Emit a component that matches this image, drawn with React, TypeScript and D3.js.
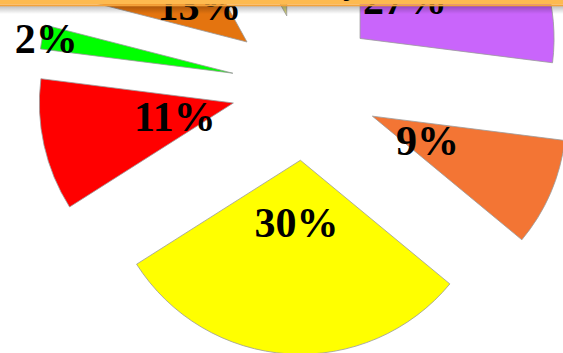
import React from "react";
import * as d3 from "d3";

const labels = ["27%", "9%", "30%", "11%", "2%", "13%", "8%"];
const values = [27, 9, 30, 11, 2, 13, 8];
const colors = ["#C965FB", "#F37534", "#FFFF00", "#FF0000", "#00FF00", "#E4740F", "#D2D27C"];
const labelDist = [60, 60, 62, 60, 190, 60, 60];

const W = 563;
const H = 353;
const cx = 305;
const cy = 87;
const R = 194;
const explode = 73.4;

export default function App() {
  const pie = d3.pie<number>().sort(null).value((d) => d).startAngle(0).endAngle(2 * Math.PI);
  const arcs = pie(values);
  const arc = d3.arc<d3.PieArcDatum<number>>().innerRadius(0).outerRadius(R);

  return (
    <svg
      width={W}
      height={H}
      style={{ position: "fixed", left: 0, top: 0, background: "#fff" }}
      viewBox={`0 0 ${W} ${H}`}
    >
      <defs>
        <linearGradient id="shadow" x1="0" y1="0" x2="0" y2="1">
          <stop offset="0" stopColor="#000" stopOpacity="0.25" />
          <stop offset="1" stopColor="#000" stopOpacity="0" />
        </linearGradient>
      </defs>
      <g transform={`translate(${cx},${cy})`}>
        {arcs.map((a, i) => {
          const mid = (a.startAngle + a.endAngle) / 2;
          const dx = Math.sin(mid) * explode;
          const dy = -Math.cos(mid) * explode;
          return (
            <g key={i} transform={`translate(${dx},${dy})`}>
              <path d={arc(a) || ""} fill={colors[i]} stroke="#9a9a9a" strokeWidth={0.8} />
            </g>
          );
        })}
        {arcs.map((a, i) => {
          const mid = (a.startAngle + a.endAngle) / 2;
          const r = explode + labelDist[i];
          const x = Math.sin(mid) * r;
          const y = -Math.cos(mid) * r;
          return (
            <text
              key={"l" + i}
              x={x}
              y={y}
              dy="0.36em"
              textAnchor="middle"
              fontFamily="'Liberation Serif', 'Times New Roman', serif"
              fontWeight="bold"
              fontSize={42}
              fill="#000"
            >
              {labels[i]}
            </text>
          );
        })}
      </g>
      <rect x={0} y={6} width={W} height={8} fill="url(#shadow)" />
      <rect x={0} y={0} width={W} height={4.5} fill="#FDBA50" />
      <rect x={0} y={4.5} width={W} height={1.8} fill="#F3A23A" />
      <text
        x={352}
        y={-7}
        textAnchor="middle"
        fontFamily="'Liberation Serif', serif"
        fontWeight="bold"
        fontSize={36}
        fill="#000"
      >
        y
      </text>
    </svg>
  );
}
